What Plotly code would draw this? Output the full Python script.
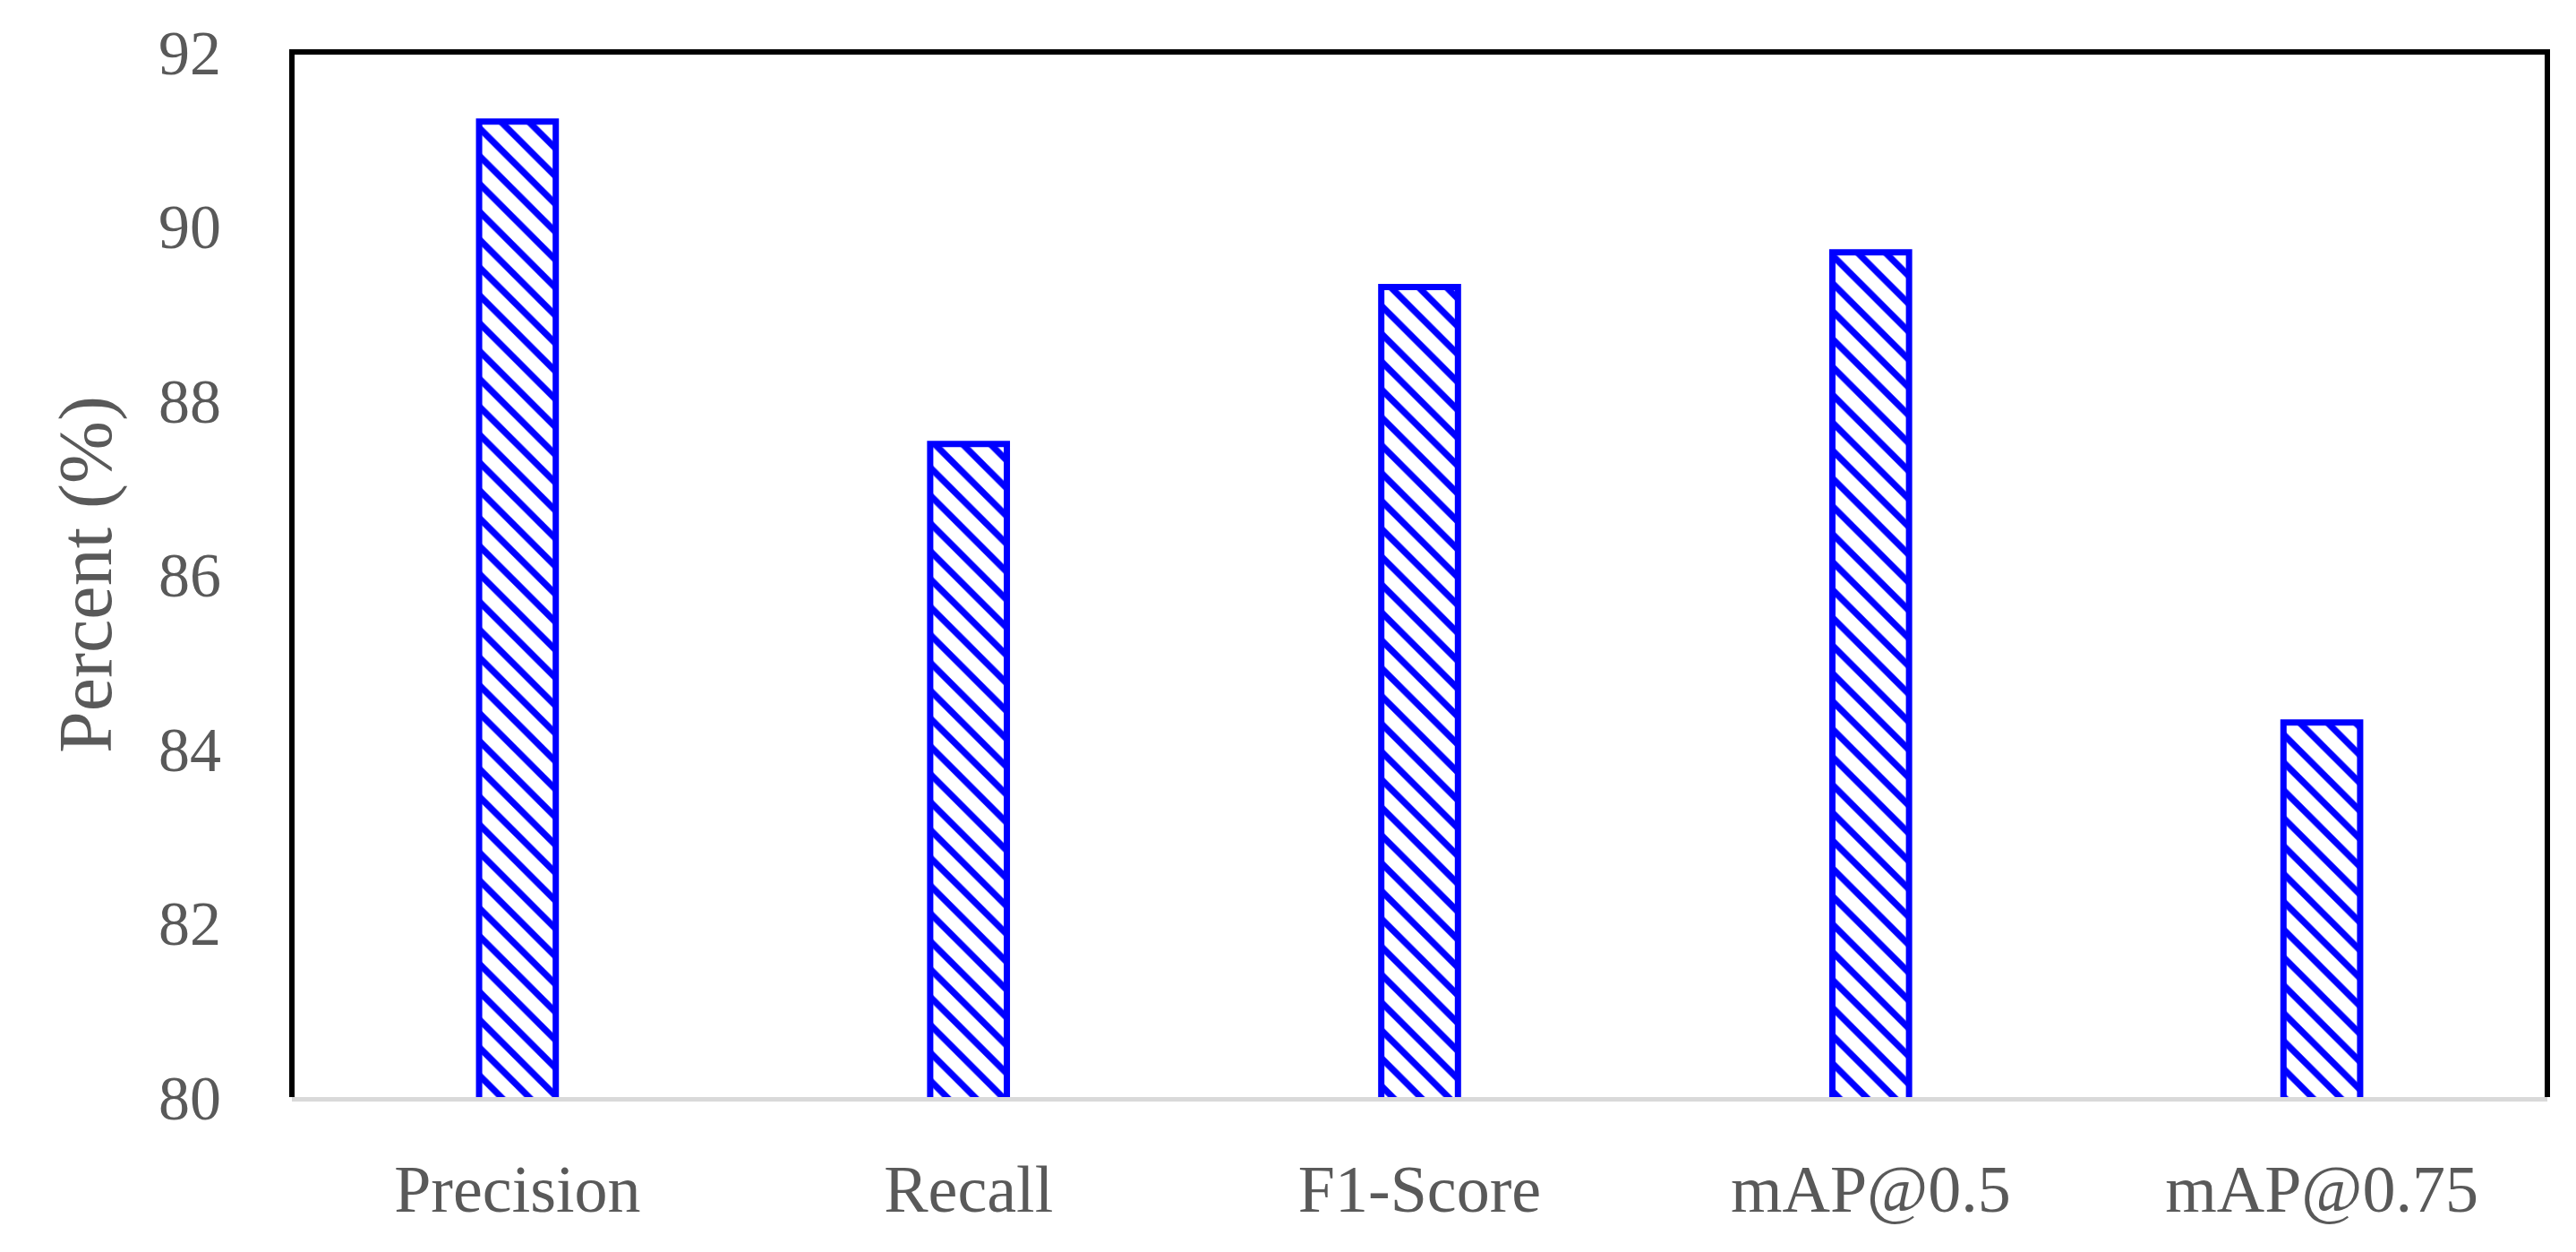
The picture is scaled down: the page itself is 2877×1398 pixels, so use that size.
import plotly.graph_objects as go

categories = ["Precision", "Recall", "F1-Score", "mAP@0.5", "mAP@0.75"]
values = [91.2, 87.5, 89.3, 89.7, 84.3]
y_ticks = [80, 82, 84, 86, 88, 90, 92]

FONT = "Liberation Serif"
GRAY = "#595959"

fig = go.Figure()
fig.add_trace(go.Bar(
    x=categories,
    y=values,
    width=0.17,
    marker=dict(
        color="white",
        line=dict(color="#0000FF", width=7),
        pattern=dict(shape="\\", fgcolor="#0000FF", bgcolor="white",
                     size=22, solidity=0.33, fillmode="replace"),
    ),
))

fig.update_layout(
    width=2877, height=1398,
    paper_bgcolor="white", plot_bgcolor="white",
    margin=dict(l=318, r=40, t=42, b=181),
    showlegend=False,
    font=dict(family=FONT, color=GRAY, size=70),
    xaxis=dict(
        type="category",
        range=[-0.5, 4.5],
        showline=True, linecolor="#D9D9D9", linewidth=5,
        ticks="outside", ticklen=34, tickcolor="rgba(0,0,0,0)",
        tickfont=dict(family=FONT, size=74, color=GRAY),
        showgrid=False, zeroline=False,
    ),
    yaxis=dict(
        range=[80, 92],
        tickvals=y_ticks,
        ticktext=[str(t) for t in y_ticks],
        showline=False,
        ticks="outside", ticklen=64, tickcolor="rgba(0,0,0,0)",
        tickfont=dict(family=FONT, size=70, color=GRAY),
        showgrid=False, zeroline=False,
        title=dict(text="Percent (%)", font=dict(family=FONT, size=84, color=GRAY),
                   standoff=24),
    ),
)

fig.add_shape(
    type="path",
    xref="paper", yref="paper",
    path="M 0 0 L 0 1 L 1 1 L 1 0",
    line=dict(color="black", width=6),
    layer="above",
)

fig.write_html("out.html")
